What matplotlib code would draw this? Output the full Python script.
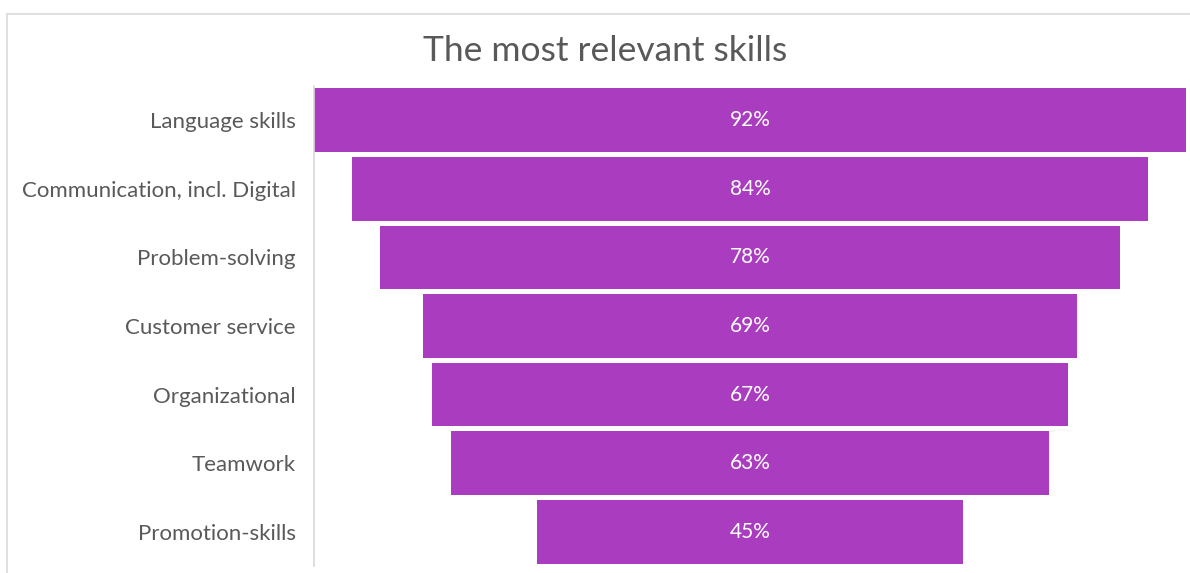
import matplotlib
matplotlib.use("Agg")
import matplotlib.pyplot as plt
from matplotlib.patches import Rectangle

skills = ["Language skills", "Communication, incl. Digital", "Problem-solving",
          "Customer service", "Organizational", "Teamwork", "Promotion-skills"]
shares = [92, 84, 78, 69, 67, 63, 45]

W, H = 1190, 573
plt.rcParams["font.family"] = ["Lato", "DejaVu Sans"]
fig = plt.figure(figsize=(W / 100, H / 100), dpi=100)

# light frame around the chart area (runs off the right and bottom edges)
fig.patches.append(Rectangle((7 / W, -0.1), 1.2, 1 - 14 / H + 0.1, transform=fig.transFigure,
                             fill=False, edgecolor="#d9d9d9", lw=1.2))

ax = fig.add_axes([314 / W, 1 - 566 / H, (1186 - 314) / W, (566 - 86) / H])
y = list(range(len(skills)))
left = [-v / 2 for v in shares]
ax.barh(y, shares, left=left, height=0.93, color="#aa3dbf")
for yi, v in zip(y, shares):
    ax.text(0, yi, f"{v}%", ha="center", va="center", color="white", fontsize=15)

ax.set_xlim(-46, 46)
ax.set_ylim(len(skills) - 0.5, -0.5)
ax.set_xticks([])
ax.set_yticks(y)
ax.set_yticklabels(skills, fontsize=16, color="#595959")
ax.tick_params(axis="y", length=0, pad=13)
for s in ("top", "right", "bottom"):
    ax.spines[s].set_visible(False)
ax.spines["left"].set_color("#d9d9d9")
ax.spines["left"].set_linewidth(1.2)

fig.text(605 / W, 1 - 51 / H, "The most relevant skills", ha="center", va="center",
         fontsize=25.5, color="#595959")

fig.savefig("out.png", dpi=100)
